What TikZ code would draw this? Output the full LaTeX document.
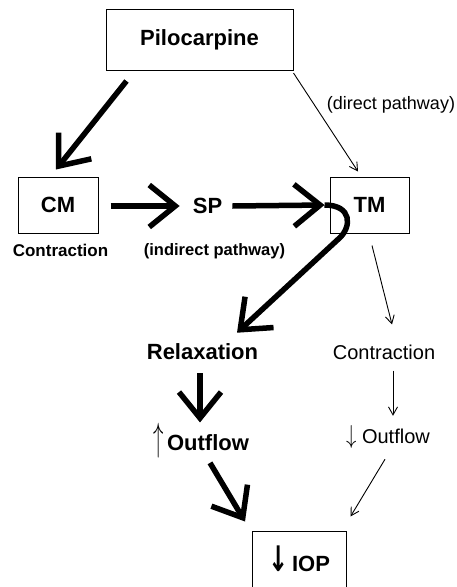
\documentclass[tikz,border=0pt]{standalone}
\usepackage{fontspec}
\setmainfont{Liberation Sans}
\newfontfamily\arrowfont{DejaVu Sans}
\usetikzlibrary{arrows.meta}

\begin{document}
\begin{tikzpicture}[x=1pt, y=-1pt,
    box/.style={draw, line width=1pt, inner sep=0pt},
    bigtext/.style={font=\fontsize{22}{26}\selectfont\bfseries, inner sep=0pt},
    midtext/.style={font=\fontsize{17}{20}\selectfont\bfseries, inner sep=0pt},
    plaintext/.style={font=\fontsize{20}{23}\selectfont, inner sep=0pt},
    heavyarrow/.style={line width=5.5pt, -{Straight Barb[length=26pt, width=42pt]}},
    lightarrow/.style={line width=0.9pt, -{Straight Barb[length=8pt, width=9pt]}}]
            \useasboundingbox (0,0) rectangle (457,587);
            % boxes
            \node[box, bigtext, minimum width=187pt, minimum height=61pt] (pilo) at (199.5,40) {Pilocarpine};
            \node[box, bigtext, minimum width=80pt, minimum height=56pt] (cm) at (58,205) {CM};
            \node[box, bigtext, minimum width=79pt, minimum height=56pt] (tm) at (369.5,205) {TM};
            \node[box, bigtext, minimum width=94pt, minimum height=56pt] (iop) at (299,559)
              {{\arrowfont\bfseries\scalebox{1.1}[1.6]{↓}}\,IOP};
            % labels
            \node[bigtext] (sp) at (207.5,206) {SP};
            \node[midtext] (cmlab) at (60.5,250) {Contraction};
            \node[midtext, font=\fontsize{16.5}{19}\selectfont\bfseries] (splab) at (214.5,251) {(indirect pathway)};
            \node[plaintext, font=\fontsize{18}{21}\selectfont] (direct) at (391,105) {(direct pathway)};
            \node[bigtext] (relax) at (202.5,352) {Relaxation};
            \node[plaintext] (contr) at (384,352) {Contraction};
            \node[bigtext, anchor=base] (outup) at (201,450)
              {\scalebox{1}[1.9]{$\uparrow$}\,Outflow};
            \node[plaintext, anchor=base] (outdown) at (388,443) {\scalebox{1}[1.25]{$\downarrow$} Outflow};
            % heavy arrows
            \draw[heavyarrow] ([shift={(21,10)}]pilo.south west) -- ([shift={(-2,-7)}]cm.north);
            \draw[heavyarrow] ([shift={(12,1)}]cm.east) -- ([shift={(-13,0)}]sp.west);
            \draw[heavyarrow] ([shift={(10,0)}]sp.east) -- ([shift={(-5,0)}]tm.west);
            \draw[heavyarrow] ([shift={(-5,0)}]tm.west) .. controls +(28,0) and +(12,-11) .. ++(15,33)
              -- ([shift={(34.5,-11)}]relax.north);
            \draw[heavyarrow] ([shift={(-2.5,13)}]relax.south) -- ([shift={(-1,0)}]outup.north);
            \draw[heavyarrow] ([shift={(9,5)}]outup.south) -- ([shift={(-54,-9)}]iop.north);
            % light arrows
            \draw[lightarrow] ([shift={(0,2)}]pilo.south east) -- ([shift={(-11.5,-5)}]tm.north);
            \draw[lightarrow] ([shift={(2.5,12)}]tm.south) -- ([shift={(8,-20)}]contr.north);
            \draw[lightarrow] ([shift={(9,11)}]contr.south) -- ([shift={(5,-9)}]outdown.north);
            \draw[lightarrow] ([shift={(-3,11)}]outdown.south) -- ([shift={(4,-14)}]iop.north east);
          \end{tikzpicture}
\end{document}
